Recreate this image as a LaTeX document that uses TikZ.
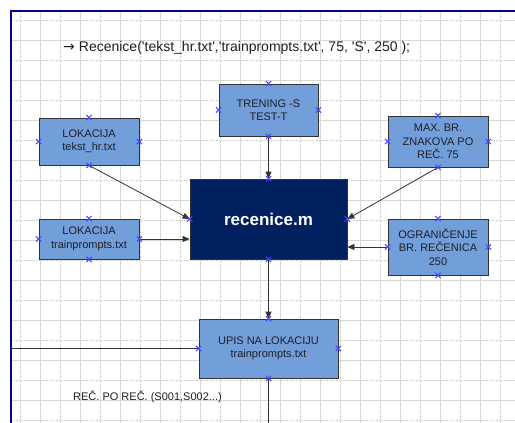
\documentclass[tikz,border=0pt]{standalone}
\usepackage{fontspec}
\setmainfont{Liberation Sans}[Ligatures=TeXOff]
\newfontfamily\arrowfont{DejaVu Sans}
\usetikzlibrary{arrows.meta,calc}
\definecolor{framenavy}{RGB}{0,0,140}
\definecolor{boxblue}{RGB}{114,159,218}
\definecolor{mainnavy}{RGB}{0,32,96}
\definecolor{txtgray}{RGB}{30,30,40}
\definecolor{cpblue}{RGB}{70,70,255}
\definecolor{gridgray}{RGB}{205,205,205}
\newcommand{\cpmark}[1]{\draw[cpblue,line width=1pt] ($(#1)+(-2.6,-2.6)$) -- ($(#1)+(2.6,2.6)$) ($(#1)+(-2.6,2.6)$) -- ($(#1)+(2.6,-2.6)$);}
\tikzset{
  box/.style={draw=black!80, line width=0.8pt, fill=boxblue, text=txtgray, align=center,
    font=\fontsize{11}{13.5}\selectfont, inner sep=0pt},
  mainbox/.style={draw=black!80, line width=0.8pt, fill=mainnavy, text=white,
    font=\fontsize{17}{20}\selectfont\bfseries, inner sep=0pt},
  conn/.style={draw=black!80, line width=0.8pt},
  arr/.style={conn, -{Triangle[length=7pt,width=6pt]}},
  freetext/.style={text=txtgray, inner sep=0pt}
}
\begin{document}
\begin{tikzpicture}[x=1pt,y=-1pt]
\useasboundingbox (0,0) rectangle (515,423);
\fill[white] (0,0) rectangle (515,423);
% grid
\begin{scope}
\clip (11,11) rectangle (515,423);
\foreach \g in {20,60,...,500} {
  \draw[gridgray, line width=0.5pt, dash pattern=on 1.5pt off 1pt] (\g,11) -- (\g,423);
  \draw[gridgray, line width=0.5pt, dash pattern=on 1.5pt off 1pt] (11,\g) -- (515,\g);
}
\foreach \g in {40,80,...,520} {
  \draw[gridgray!80, line width=0.6pt] (\g,11) -- (\g,423);
  \draw[gridgray!80, line width=0.6pt] (11,\g) -- (515,\g);
}
\end{scope}
% frame
\draw[framenavy, line width=2pt] (11,423) -- (11,11) -- (515,11);

% title
\node[freetext, anchor=west, font=\fontsize{14}{16}\selectfont] (title) at (63,48)
  {{\arrowfont →}\hspace{4pt}Recenice('tekst\_hr.txt','trainprompts.txt', 75, 'S', 250 );};

% boxes
\node[box, minimum width=99, minimum height=52] (tren) at (268.5,110) {TRENING -S\\TEST-T};
\node[box, minimum width=100, minimum height=47] (lok1) at (89,141.5) {LOKACIJA\\tekst\_hr.txt};
\node[box, minimum width=100, minimum height=40] (lok2) at (89,239) {LOKACIJA\\trainprompts.txt};
\node[mainbox, minimum width=157, minimum height=80] (rec) at (268.5,219) {recenice.m};
\node[box, minimum width=100, minimum height=51] (maxbr) at (438,141.5) {MAX. BR.\\ZNAKOVA PO\\REČ. 75};
\node[box, minimum width=100, minimum height=56] (ogr) at (438,247) {OGRANIČENJE\\BR. REČENICA\\250};
\node[box, minimum width=139, minimum height=59] (upis) at (268.5,348.5) {UPIS NA LOKACIJU\\trainprompts.txt};

\node[freetext, anchor=west, font=\fontsize{11}{13}\selectfont] (rpr) at (73,397) {REČ. PO REČ. (S001,S002...)};

% connectors
\coordinate (lb) at (11,348.5);
\coordinate (bot) at (268.5,423);
\draw[arr] (tren.south) -- (rec.north);
\draw[arr] (lok1.south) -- (rec.west);
\draw[arr] (lok2.east) -- (lok2.east -| rec.west);
\draw[arr] (maxbr.south) -- (rec.east);
\draw[arr] (ogr.west) -- (ogr.west -| rec.east);
\draw[arr] (rec.south) -- (upis.north);
\draw[conn] (lb) -- (upis.west);
\draw[conn] (upis.south) -- (bot);

% connection point markers
\foreach \n in {tren,lok1,lok2,rec,maxbr,ogr,upis} {
  \foreach \a in {north,south,east,west} {
    \cpmark{\n.\a}
  }
}
\end{tikzpicture}
\end{document}
